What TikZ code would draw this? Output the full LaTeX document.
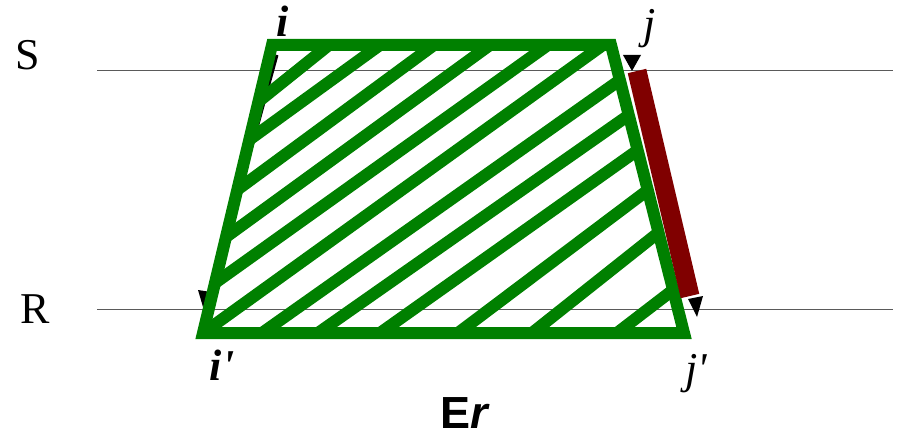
\documentclass[tikz,border=0pt]{standalone}
\usepackage{fontspec}
\setmainfont{Liberation Serif}
\newfontfamily\arialfont{Liberation Sans}
\definecolor{hatchgreen}{RGB}{0,128,0}
\definecolor{barred}{RGB}{128,0,0}
\definecolor{rulegray}{RGB}{90,90,90}
\begin{document}
\begin{tikzpicture}[x=1pt,y=-1pt,
  lbl/.style={inner sep=0pt, anchor=base, font=\fontsize{44}{50}\selectfont},
  outline/.style={draw=hatchgreen, line width=12pt, line join=miter},
  hatch/.style={draw=hatchgreen, line width=12pt, shorten <=-14pt, shorten >=-14pt},
  level/.style={draw=rulegray, line width=1pt},
  tipmark/.style={fill=black, draw=none},
  hidden/.style={draw=black, line width=3pt}]
\useasboundingbox (0,0) rectangle (903,436);

% level lines
\coordinate (S0) at (97,71);  \coordinate (S1) at (893,71);
\coordinate (R0) at (97,309); \coordinate (R1) at (893,309);
\draw[level] (S0) -- (S1);
\draw[level] (R0) -- (R1);

% labels
\node[lbl] (labS) at (28,70) {S};
\node[lbl] (labR) at (35,323) {R};
\node[lbl] (labi) at (283,37) {\bfseries\itshape i};
\node[lbl] (labj) at (650,39) {\itshape j};
\node[lbl] (labip) at (222,380) {\bfseries\itshape i\textquotesingle};
\node[lbl] (labjp) at (696,383) {\itshape j\textquotesingle};
\node[inner sep=0pt, anchor=base, font=\arialfont\fontsize{45}{50}\selectfont\bfseries] (labEr) at (464,428) {E\itshape r};

% hidden black arrow i -> i'
\coordinate (ai) at (277,55);
\coordinate (aip) at (212,292);
\draw[hidden] (ai) -- (aip);
\fill[tipmark] (198,290) -- (211,292) -- (203,307) -- cycle;

% trapezoid corners
\coordinate (TL) at (272,45);
\coordinate (TR) at (611,45);
\coordinate (BR) at (684,333);
\coordinate (BL) at (203,333);

% hatching
\begin{scope}
  \clip (TL) -- (TR) -- (BR) -- (BL) -- cycle;
  \draw[hatch] (258,102) -- (329,45);
  \draw[hatch] (249,140) -- (380,45);
  \draw[hatch] (237,190) -- (434,45);
  \draw[hatch] (226,237) -- (490,45);
  \draw[hatch] (215,283) -- (548,45);
  \draw[hatch] (203,333) -- (603,45);
  \draw[hatch] (262,333) -- (620,80);
  \draw[hatch] (318,333) -- (629,115);
  \draw[hatch] (380,333) -- (638,150);
  \draw[hatch] (458,333) -- (648,190);
  \draw[hatch] (532,333) -- (658,233);
  \draw[hatch] (617,333) -- (673,290);
\end{scope}
\draw[outline] (TL) -- (TR) -- (BR) -- (BL) -- cycle;

% red bar j -> j'
\coordinate (bj) at (637,71);
\coordinate (bjp) at (690,296);
\fill[tipmark] (623,55) -- (641,55) -- (632,71) -- cycle;
\draw[barred, line width=19pt] (bj) -- (bjp);
\fill[tipmark] (688,299) -- (703,296) -- (697,317) -- cycle;
\end{tikzpicture}
\end{document}
